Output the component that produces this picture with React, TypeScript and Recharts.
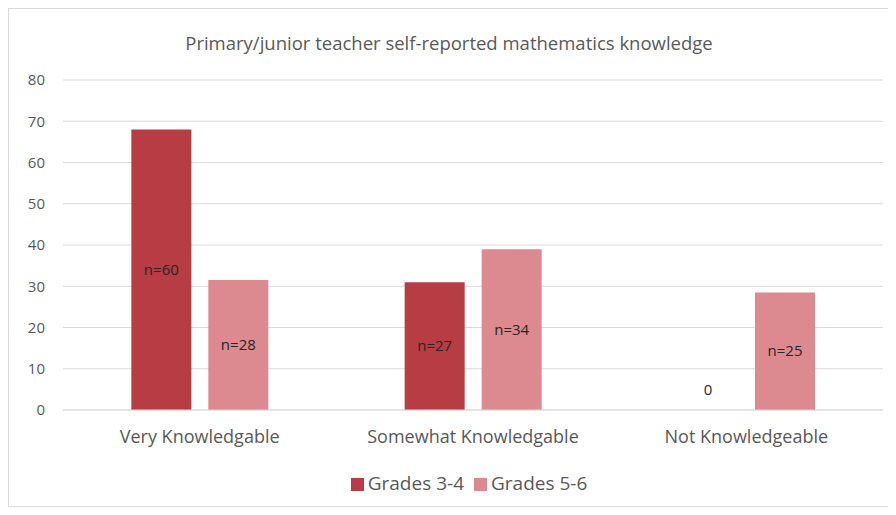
import { BarChart, Bar, XAxis, YAxis, CartesianGrid, Legend, LabelList, Cell } from 'recharts'

const categories = ['Very Knowledgable', 'Somewhat Knowledgable', 'Not Knowledgeable']
const grades34 = [68, 31, 0]
const grades56 = [31.5, 39, 28.5]
const labels34 = ['n=60', 'n=27', '0']
const labels56 = ['n=28', 'n=34', 'n=25']
const yTicks = [0, 10, 20, 30, 40, 50, 60, 70, 80]

const COLOR_34 = '#b83c44'
const COLOR_56 = '#dc8a90'

const data = categories.map((name, i) => ({
  name,
  g34: grades34[i],
  g56: grades56[i],
  l34: labels34[i],
  l56: labels56[i],
}))

const FONT = '"Open Sans", sans-serif'

function renderLabel(props: any) {
  const { x, y, width, height, value } = props
  const cx = x + width / 2
  // empty bar: put the label a bit above the baseline
  const cy = height > 1.5 ? y + height / 2 : y + height - 20
  return (
    <text x={cx} y={cy} dy={5} textAnchor="middle" fontSize={15} fill="#262626" fontFamily={FONT}>
      {value}
    </text>
  )
}

export default function App() {
  return (
    <div
      style={{
        position: 'relative',
        width: 880,
        height: 497,
        border: '1px solid #d9d9d9',
        background: '#fff',
        fontFamily: FONT,
      }}
    >
      <div
        style={{
          position: 'absolute',
          top: 21,
          left: 0,
          width: '100%',
          textAlign: 'center',
          fontSize: 18.5,
          color: '#595959',
        }}
      >
        Primary/junior teacher self-reported mathematics knowledge
      </div>
      <BarChart
        width={880}
        height={497}
        data={data}
        margin={{ top: 71, right: 6, left: 0, bottom: 10 }}
        barCategoryGap="25%"
        barGap={17}
      >
        <CartesianGrid vertical={false} stroke="#d9d9d9" />
        <XAxis
          dataKey="name"
          axisLine={{ stroke: '#d9d9d9' }}
          tickLine={false}
          tickMargin={14}
          height={60}
          tick={{ fontSize: 18, fill: '#595959', fontFamily: FONT }}
        />
        <YAxis
          domain={[0, 80]}
          ticks={yTicks}
          axisLine={false}
          tickLine={false}
          tickSize={0}
          tickMargin={18}
          width={54}
          tick={{ fontSize: 15, fill: '#595959', fontFamily: FONT }}
        />
        <Legend
          verticalAlign="bottom"
          iconType="square"
          iconSize={13}
          wrapperStyle={{ fontSize: 19, color: '#595959', fontFamily: FONT, paddingLeft: 28 }}
          formatter={(v) => <span style={{ color: '#595959' }}>{v}</span>}
        />
        <Bar dataKey="g34" name="Grades 3-4" fill={COLOR_34} minPointSize={1} isAnimationActive={false}>
          {data.map((d, i) => (
            <Cell key={i} fill={d.g34 === 0 ? 'transparent' : COLOR_34} />
          ))}
          <LabelList dataKey="l34" content={renderLabel} />
        </Bar>
        <Bar dataKey="g56" name="Grades 5-6" fill={COLOR_56} isAnimationActive={false}>
          <LabelList dataKey="l56" content={renderLabel} />
        </Bar>
      </BarChart>
    </div>
  )
}
